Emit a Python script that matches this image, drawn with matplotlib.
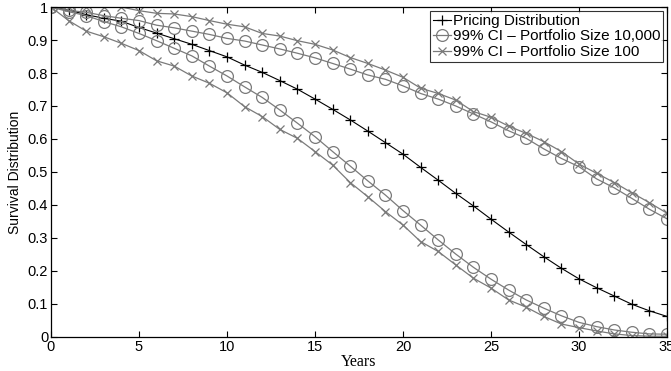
import numpy as np
import matplotlib
matplotlib.use('Agg')
import matplotlib.pyplot as plt

years = list(range(0, 36))

pricing = [1.0, 0.991, 0.977, 0.966, 0.957, 0.938, 0.921, 0.904, 0.887, 0.868, 0.849,
           0.824, 0.802, 0.777, 0.751, 0.721, 0.690, 0.658, 0.624, 0.589, 0.554,
           0.514, 0.475, 0.435, 0.397, 0.357, 0.318, 0.280, 0.243, 0.208, 0.176,
           0.149, 0.124, 0.099, 0.079, 0.062]

ci10k_upper = [1.0, 0.990, 0.984, 0.974, 0.966, 0.959, 0.945, 0.937, 0.927, 0.917, 0.905,
               0.897, 0.885, 0.873, 0.860, 0.846, 0.829, 0.812, 0.794, 0.781, 0.761,
               0.738, 0.721, 0.700, 0.676, 0.652, 0.625, 0.602, 0.570, 0.541, 0.516,
               0.479, 0.452, 0.420, 0.387, 0.358]

ci10k_lower = [1.0, 0.986, 0.974, 0.956, 0.940, 0.920, 0.898, 0.875, 0.852, 0.821, 0.791,
               0.758, 0.726, 0.688, 0.648, 0.607, 0.562, 0.518, 0.473, 0.430, 0.383,
               0.339, 0.294, 0.251, 0.211, 0.175, 0.142, 0.112, 0.087, 0.064, 0.044,
               0.031, 0.021, 0.014, 0.009, 0.008]

ci100_upper = [1.0, 0.999, 1.0, 1.0, 1.0, 0.989, 0.981, 0.979, 0.971, 0.959, 0.948,
               0.940, 0.920, 0.912, 0.898, 0.887, 0.870, 0.847, 0.829, 0.809, 0.787,
               0.754, 0.738, 0.718, 0.683, 0.666, 0.639, 0.617, 0.592, 0.562, 0.524,
               0.496, 0.468, 0.437, 0.407, 0.375]

ci100_lower = [1.0, 0.959, 0.927, 0.910, 0.890, 0.868, 0.837, 0.821, 0.791, 0.769, 0.740,
               0.698, 0.668, 0.629, 0.602, 0.562, 0.521, 0.468, 0.425, 0.380, 0.339,
               0.289, 0.259, 0.218, 0.178, 0.148, 0.112, 0.090, 0.062, 0.039, 0.028,
               0.018, 0.009, 0.004, 0.002, 0.002]

plt.rcParams['font.family'] = ['Liberation Sans', 'DejaVu Sans']

gray = '#7a7a7a'

fig = plt.figure(figsize=(6.71, 3.71), dpi=100)
ax = fig.add_axes([0.076, 0.092, 0.918, 0.889])

ax.plot(years, pricing, color='black', lw=0.8, marker='+', ms=7, mew=0.9,
        label='Pricing Distribution')
ax.plot(years, ci10k_upper, color=gray, lw=0.9, marker='o', ms=8.5, mfc='none', mew=0.9,
        label='99% CI \u2013 Portfolio Size 10,000')
ax.plot(years, ci10k_lower, color=gray, lw=0.9, marker='o', ms=8.5, mfc='none', mew=0.9)
ax.plot(years, ci100_upper, color=gray, lw=0.9, marker='x', ms=5.5, mew=0.9,
        label='99% CI \u2013 Portfolio Size 100')
ax.plot(years, ci100_lower, color=gray, lw=0.9, marker='x', ms=5.5, mew=0.9)

ax.set_xlim(0, 35)
ax.set_ylim(0, 1)
ax.set_xticks(range(0, 36, 5))
ax.set_yticks(np.arange(0, 1.01, 0.1))
ax.set_yticklabels(['0', '0.1', '0.2', '0.3', '0.4', '0.5', '0.6', '0.7', '0.8', '0.9', '1'])
ax.tick_params(direction='in', top=True, right=True, labelsize=10.5, length=4, width=0.8, pad=2)
for s in ax.spines.values():
    s.set_linewidth(0.9)

ax.set_xlabel('Years', family='Liberation Serif', fontsize=11.5, labelpad=0)
ax.set_ylabel('Survival Distribution', fontsize=10, labelpad=4)

leg = ax.legend(loc='upper right', fontsize=11, frameon=True, fancybox=False,
                edgecolor='black', borderpad=0.2, handlelength=1.2, handletextpad=0.1,
                labelspacing=0.1, borderaxespad=0.25)
leg.get_frame().set_linewidth(0.8)

fig.savefig('out.png', dpi=100)
